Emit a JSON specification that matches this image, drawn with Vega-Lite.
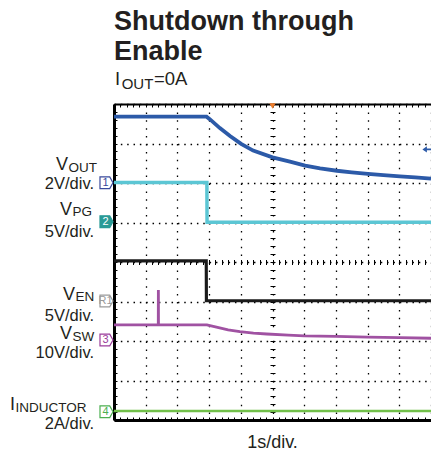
{
  "$schema": "https://vega.github.io/schema/vega-lite/v6.json",
  "width": 317,
  "height": 316,
  "autosize": {"type": "none"},
  "padding": {"left": 114, "top": 104, "right": 0, "bottom": 33},
  "background": "white",
  "config": {"view": {"stroke": null}, "font": "Liberation Sans", "text": {"font": "Liberation Sans", "color": "#231f20"}},
  "resolve": {
    "axis": {"x": "independent", "y": "independent"},
    "scale": {"color": "independent", "fill": "independent", "stroke": "independent", "strokeWidth": "independent"}
  },
  "layer": [
    {
      "data": {"values": [
        {"s": "VOUT", "t": 0, "v": 7.68}, {"s": "VOUT", "t": 2.92, "v": 7.68}, {"s": "VOUT", "t": 3.03, "v": 7.61},
        {"s": "VOUT", "t": 3.34, "v": 7.39}, {"s": "VOUT", "t": 3.66, "v": 7.19}, {"s": "VOUT", "t": 4.01, "v": 6.99},
        {"s": "VOUT", "t": 4.39, "v": 6.82}, {"s": "VOUT", "t": 5.0, "v": 6.65}, {"s": "VOUT", "t": 5.55, "v": 6.54},
        {"s": "VOUT", "t": 6.03, "v": 6.44}, {"s": "VOUT", "t": 6.5, "v": 6.37}, {"s": "VOUT", "t": 7.03, "v": 6.31},
        {"s": "VOUT", "t": 7.5, "v": 6.27}, {"s": "VOUT", "t": 8.01, "v": 6.23}, {"s": "VOUT", "t": 8.5, "v": 6.2},
        {"s": "VOUT", "t": 9.02, "v": 6.17}, {"s": "VOUT", "t": 9.5, "v": 6.14}, {"s": "VOUT", "t": 10, "v": 6.11},
        {"s": "VPG", "t": 0, "v": 6.01}, {"s": "VPG", "t": 2.93, "v": 6.01}, {"s": "VPG", "t": 2.935, "v": 5.005}, {"s": "VPG", "t": 10, "v": 5.005},
        {"s": "VEN", "t": 0, "v": 4.03}, {"s": "VEN", "t": 2.91, "v": 4.03}, {"s": "VEN", "t": 2.915, "v": 3.02}, {"s": "VEN", "t": 10, "v": 3.02},
        {"s": "VSW", "t": 0, "v": 2.41}, {"s": "VSW", "t": 1.397, "v": 2.41}, {"s": "VSW", "t": 1.4, "v": 3.29}, {"s": "VSW", "t": 1.403, "v": 2.41},
        {"s": "VSW", "t": 2.93, "v": 2.41}, {"s": "VSW", "t": 3.3, "v": 2.34}, {"s": "VSW", "t": 3.6, "v": 2.28}, {"s": "VSW", "t": 3.97, "v": 2.235},
        {"s": "VSW", "t": 4.4, "v": 2.2}, {"s": "VSW", "t": 4.82, "v": 2.177}, {"s": "VSW", "t": 5.5, "v": 2.15}, {"s": "VSW", "t": 6.0, "v": 2.13},
        {"s": "VSW", "t": 7.0, "v": 2.115}, {"s": "VSW", "t": 8.0, "v": 2.1}, {"s": "VSW", "t": 9.0, "v": 2.085}, {"s": "VSW", "t": 10, "v": 2.07},
        {"s": "IIND", "t": 0, "v": 0.23}, {"s": "IIND", "t": 10, "v": 0.23}
      ]},
      "mark": {"type": "line", "interpolate": "linear"},
      "encoding": {
        "x": {"field": "t", "type": "quantitative", "scale": {"domain": [0, 10], "nice": false, "zero": false},
          "axis": {"orient": "bottom", "values": [0,1,2,3,4,5,6,7,8,9,10], "grid": true, "gridDash": [1.5, 6.4], "gridColor": "#000", "gridWidth": 1.3,
            "ticks": false, "labels": false, "domain": true, "domainColor": "#000", "domainWidth": 3, "title": null}},
        "y": {"field": "v", "type": "quantitative", "scale": {"domain": [0, 8], "nice": false, "zero": false},
          "axis": {"orient": "left", "values": [0,1,2,3,4,5,6,7,8], "grid": true, "gridDash": [1.5, 4.84], "gridColor": "#000", "gridWidth": 1.3,
            "ticks": false, "labels": false, "domain": true, "domainColor": "#000", "domainWidth": 3, "title": null}},
        "color": {"field": "s", "type": "nominal", "scale": {"domain": ["VOUT", "VPG", "VEN", "VSW", "IIND"], "range": ["#2c5aa8", "#5cc6d4", "#1a1a1a", "#a052a2", "#72c04a"]}, "legend": null},
        "strokeWidth": {"field": "s", "type": "nominal", "scale": {"domain": ["VOUT", "VPG", "VEN", "VSW", "IIND"], "range": [3.8, 2.5, 1.8, 3.6, 2.5]}, "legend": null}
      }
    },
    {
      "data": {"values": [
        {"t": "V", "x": -1.451, "y": 6.329}, {"t": "V", "x": -1.325, "y": 5.19}, {"t": "V", "x": -1.23, "y": 3.038},
        {"t": "V", "x": -1.325, "y": 2.05}, {"t": "I", "x": -3.123, "y": 0.25}
      ]},
      "mark": {"type": "text", "align": "right", "baseline": "alphabetic", "fontSize": 18},
      "encoding": {
        "x": {"field": "x", "type": "quantitative", "scale": {"domain": [0, 10], "nice": false, "zero": false},
          "axis": {"orient": "top", "values": [0,0.2,0.4,0.6,0.8,1,1.2,1.4,1.6,1.8,2,2.2,2.4,2.6,2.8,3,3.2,3.4,3.6,3.8,4,4.2,4.4,4.6,4.8,5,5.2,5.4,5.6,5.8,6,6.2,6.4,6.6,6.8,7,7.2,7.4,7.6,7.8,8,8.2,8.4,8.6,8.8,9,9.2,9.4,9.6,9.8,10],
            "grid": false, "labels": false, "domain": true, "domainColor": "#000", "domainWidth": 2, "ticks": true, "tickSize": -3, "tickColor": "#000", "tickWidth": 1, "title": null}},
        "y": {"field": "y", "type": "quantitative", "scale": {"domain": [0, 8], "nice": false, "zero": false},
          "axis": {"orient": "left", "values": [0,0.2,0.4,0.6,0.8,1,1.2,1.4,1.6,1.8,2,2.2,2.4,2.6,2.8,3,3.2,3.4,3.6,3.8,4,4.2,4.4,4.6,4.8,5,5.2,5.4,5.6,5.8,6,6.2,6.4,6.6,6.8,7,7.2,7.4,7.6,7.8,8],
            "grid": false, "labels": false, "domain": false, "ticks": true, "tickSize": -3, "tickColor": "#000", "tickWidth": 1, "title": null}},
        "text": {"field": "t"}
      }
    },
    {
      "data": {"values": [
        {"t": "OUT", "x": -1.451, "y": 6.329}, {"t": "PG", "x": -1.325, "y": 5.19}, {"t": "EN", "x": -1.23, "y": 3.038},
        {"t": "SW", "x": -1.325, "y": 2.05}, {"t": "INDUCTOR", "x": -3.123, "y": 0.25}
      ]},
      "mark": {"type": "text", "align": "left", "baseline": "alphabetic", "fontSize": 13.5, "dy": 1.5, "dx": 0.5},
      "encoding": {
        "x": {"field": "x", "type": "quantitative", "scale": {"domain": [0, 10], "nice": false, "zero": false},
          "axis": {"orient": "bottom", "values": [0,0.2,0.4,0.6,0.8,1,1.2,1.4,1.6,1.8,2,2.2,2.4,2.6,2.8,3,3.2,3.4,3.6,3.8,4,4.2,4.4,4.6,4.8,5,5.2,5.4,5.6,5.8,6,6.2,6.4,6.6,6.8,7,7.2,7.4,7.6,7.8,8,8.2,8.4,8.6,8.8,9,9.2,9.4,9.6,9.8,10],
            "grid": false, "labels": false, "domain": false, "ticks": true, "tickSize": -3, "tickColor": "#000", "tickWidth": 1, "title": null}},
        "y": {"field": "y", "type": "quantitative", "scale": {"domain": [0, 8], "nice": false, "zero": false},
          "axis": {"orient": "left", "offset": -161, "values": [0,0.2,0.4,0.6,0.8,1,1.2,1.4,1.6,1.8,2,2.2,2.4,2.6,2.8,3,3.2,3.4,3.6,3.8,4,4.2,4.4,4.6,4.8,5,5.2,5.4,5.6,5.8,6,6.2,6.4,6.6,6.8,7,7.2,7.4,7.6,7.8,8],
            "grid": false, "labels": false, "domain": false, "ticks": true, "tickSize": 5, "tickColor": "#000", "tickWidth": 1, "title": null}},
        "text": {"field": "t"}
      }
    },
    {
      "data": {"values": [
        {"t": "2V/div.", "y": 5.886}, {"t": "5V/div.", "y": 4.658}, {"t": "5V/div.", "y": 2.535},
        {"t": "10V/div.", "y": 1.6}, {"t": "2A/div.", "y": -0.19}
      ]},
      "mark": {"type": "text", "align": "right", "baseline": "alphabetic", "fontSize": 16.5, "dy": 1},
      "encoding": {
        "x": {"datum": -0.631, "type": "quantitative", "scale": {"domain": [0, 10], "nice": false, "zero": false},
          "axis": {"orient": "bottom", "offset": -160.5, "values": [0,0.2,0.4,0.6,0.8,1,1.2,1.4,1.6,1.8,2,2.2,2.4,2.6,2.8,3,3.2,3.4,3.6,3.8,4,4.2,4.4,4.6,4.8,5,5.2,5.4,5.6,5.8,6,6.2,6.4,6.6,6.8,7,7.2,7.4,7.6,7.8,8,8.2,8.4,8.6,8.8,9,9.2,9.4,9.6,9.8,10],
            "grid": false, "labels": false, "domain": false, "ticks": true, "tickSize": 5, "tickColor": "#000", "tickWidth": 1, "title": null}},
        "y": {"field": "y", "type": "quantitative", "scale": {"domain": [0, 8], "nice": false, "zero": false}, "axis": null},
        "text": {"field": "t"}
      }
    },
    {
      "data": {"values": [
        {"ch": "1", "y": 6.006}, {"ch": "2", "y": 5.02}, {"ch": "R1", "y": 3.013}, {"ch": "3", "y": 2.025}, {"ch": "4", "y": 0.21}
      ]},
      "mark": {"type": "point", "shape": "M-1,-0.9L0.5,-0.9L1,0L0.5,0.9L-1,0.9Z", "size": 169, "filled": false, "strokeWidth": 1.2, "opacity": 1},
      "encoding": {
        "x": {"datum": -0.237, "type": "quantitative", "scale": {"domain": [0, 10], "nice": false, "zero": false}, "axis": null},
        "y": {"field": "y", "type": "quantitative", "scale": {"domain": [0, 8], "nice": false, "zero": false}, "axis": null},
        "fill": {"field": "ch", "type": "nominal", "scale": {"domain": ["1", "2", "R1", "3", "4"], "range": ["#ffffff", "#2a9a96", "#ffffff", "#ffffff", "#ffffff"]}, "legend": null},
        "stroke": {"field": "ch", "type": "nominal", "scale": {"domain": ["1", "2", "R1", "3", "4"], "range": ["#3a4a9c", "#2a9a96", "#9a9a9a", "#9b3d9b", "#4caf50"]}, "legend": null}
      }
    },
    {
      "data": {"values": [
        {"ch": "1", "y": 6.006}, {"ch": "2", "y": 5.02}, {"ch": "R1", "y": 3.013}, {"ch": "3", "y": 2.025}, {"ch": "4", "y": 0.21}
      ]},
      "mark": {"type": "text", "align": "center", "baseline": "middle", "fontSize": 11, "dx": -1},
      "encoding": {
        "x": {"datum": -0.237, "type": "quantitative", "scale": {"domain": [0, 10], "nice": false, "zero": false}, "axis": null},
        "y": {"field": "y", "type": "quantitative", "scale": {"domain": [0, 8], "nice": false, "zero": false}, "axis": null},
        "text": {"field": "ch"},
        "color": {"field": "ch", "type": "nominal", "scale": {"domain": ["1", "2", "R1", "3", "4"], "range": ["#3a4a9c", "#ffffff", "#9a9a9a", "#9b3d9b", "#4caf50"]}, "legend": null}
      }
    },
    {
      "data": {"values": [
        {"t": "Shutdown through", "y": 9.873}, {"t": "Enable", "y": 9.114}
      ]},
      "mark": {"type": "text", "align": "left", "baseline": "alphabetic", "fontSize": 27, "fontWeight": "bold"},
      "encoding": {
        "x": {"datum": 0, "type": "quantitative", "scale": {"domain": [0, 10], "nice": false, "zero": false}, "axis": null},
        "y": {"field": "y", "type": "quantitative", "scale": {"domain": [0, 8], "nice": false, "zero": false}, "axis": null},
        "text": {"field": "t"}
      }
    },
    {
      "data": {"values": [
        {"t": "I", "x": 0.03, "y": 8.481}, {"t": "=0A", "x": 1.262, "y": 8.481}
      ]},
      "mark": {"type": "text", "align": "left", "baseline": "alphabetic", "fontSize": 18.5},
      "encoding": {
        "x": {"field": "x", "type": "quantitative", "scale": {"domain": [0, 10], "nice": false, "zero": false}, "axis": null},
        "y": {"field": "y", "type": "quantitative", "scale": {"domain": [0, 8], "nice": false, "zero": false}, "axis": null},
        "text": {"field": "t"}
      }
    },
    {
      "data": {"values": [{"t": "OUT", "x": 0.243, "y": 8.481}]},
      "mark": {"type": "text", "align": "left", "baseline": "alphabetic", "fontSize": 15, "dy": 3.5},
      "encoding": {
        "x": {"field": "x", "type": "quantitative", "scale": {"domain": [0, 10], "nice": false, "zero": false}, "axis": null},
        "y": {"field": "y", "type": "quantitative", "scale": {"domain": [0, 8], "nice": false, "zero": false}, "axis": null},
        "text": {"field": "t"}
      }
    },
    {
      "data": {"values": [{"t": "1s/div.", "x": 5, "y": -0.701}]},
      "mark": {"type": "text", "align": "center", "baseline": "alphabetic", "fontSize": 18},
      "encoding": {
        "x": {"field": "x", "type": "quantitative", "scale": {"domain": [0, 10], "nice": false, "zero": false}, "axis": null},
        "y": {"field": "y", "type": "quantitative", "scale": {"domain": [0, 8], "nice": false, "zero": false}, "axis": null},
        "text": {"field": "t"}
      }
    },
    {
      "data": {"values": [{"m": "trigger", "x": 5, "y": 7.95}]},
      "mark": {"type": "point", "shape": "triangle-down", "size": 40, "filled": true, "color": "#f07d2a", "opacity": 1},
      "encoding": {
        "x": {"field": "x", "type": "quantitative", "scale": {"domain": [0, 10], "nice": false, "zero": false}, "axis": null},
        "y": {"field": "y", "type": "quantitative", "scale": {"domain": [0, 8], "nice": false, "zero": false}, "axis": null}
      }
    },
    {
      "data": {"values": [{"m": "level", "x": 9.87, "y": 6.85}]},
      "mark": {"type": "point", "shape": "M-1,0L0,-0.7L0,-0.2L1,-0.2L1,0.2L0,0.2L0,0.7Z", "size": 81, "filled": true, "color": "#2c5aa8", "opacity": 1},
      "encoding": {
        "x": {"field": "x", "type": "quantitative", "scale": {"domain": [0, 10], "nice": false, "zero": false}, "axis": null},
        "y": {"field": "y", "type": "quantitative", "scale": {"domain": [0, 8], "nice": false, "zero": false}, "axis": null}
      }
    }
  ]
}
